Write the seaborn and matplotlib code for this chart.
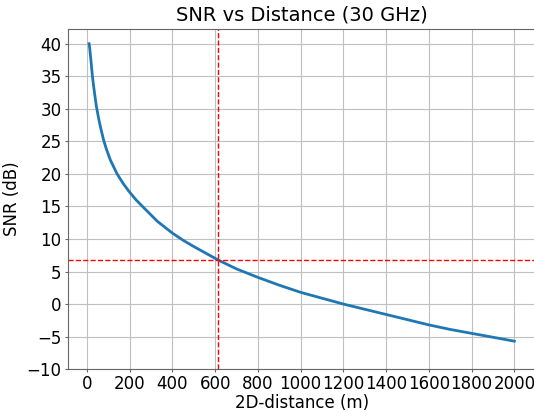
import numpy as np
import pandas as pd
import seaborn as sns
import matplotlib.pyplot as plt

# puntos
distancia = [10, 13, 16, 20, 25, 30, 36, 44, 56, 64, 78, 90, 110, 141, 170, 197,
             230, 260, 330, 400, 450, 502, 615, 700, 800, 900, 1000, 1100, 1200,
             1300, 1400, 1500, 1600, 1700, 1800, 1900, 2000]
snr = [40, 39.3, 38.3, 37.0, 35.2, 33.8, 32.3, 30.4, 28.3, 27.1, 25.2, 23.9, 22.1,
       20.0, 18.5, 17.3, 16.0, 15.0, 12.7, 10.9, 9.8, 8.8, 6.75, 5.4, 4.1, 2.9, 1.8,
       0.9, 0.0, -0.8, -1.6, -2.4, -3.2, -3.9, -4.5, -5.1, -5.7]

snr_umbral = 6.75
dist_umbral = 615

df = pd.DataFrame({"d": distancia, "snr": snr})

fig, ax = plt.subplots(figsize=(5.34, 4.12), dpi=100)
fig.subplots_adjust(left=0.127, right=1.003, top=0.930, bottom=0.104)

sns.lineplot(data=df, x="d", y="snr", ax=ax, color="tab:blue", linewidth=2)
ax.axhline(snr_umbral, color="r", linestyle="--", linewidth=1)
ax.axvline(dist_umbral, color="r", linestyle="--", linewidth=1)

ax.set_ylim(bottom=-10)
ax.set_xticks(np.arange(0, 2001, 200))
ax.set_yticks(np.arange(-10, 41, 5))
ax.grid(True, color="0.75")
for s in ax.spines.values():
    s.set_color("0.4")

ax.set_title("SNR vs Distance (30 GHz)", fontsize=14)
ax.set_xlabel("2D-distance (m)", fontsize=12, labelpad=0.5)
ax.set_ylabel("SNR (dB)", fontsize=12)
ax.tick_params(labelsize=12, length=2, pad=2.5, color="0.4")

fig.savefig("out.png", dpi=100)
